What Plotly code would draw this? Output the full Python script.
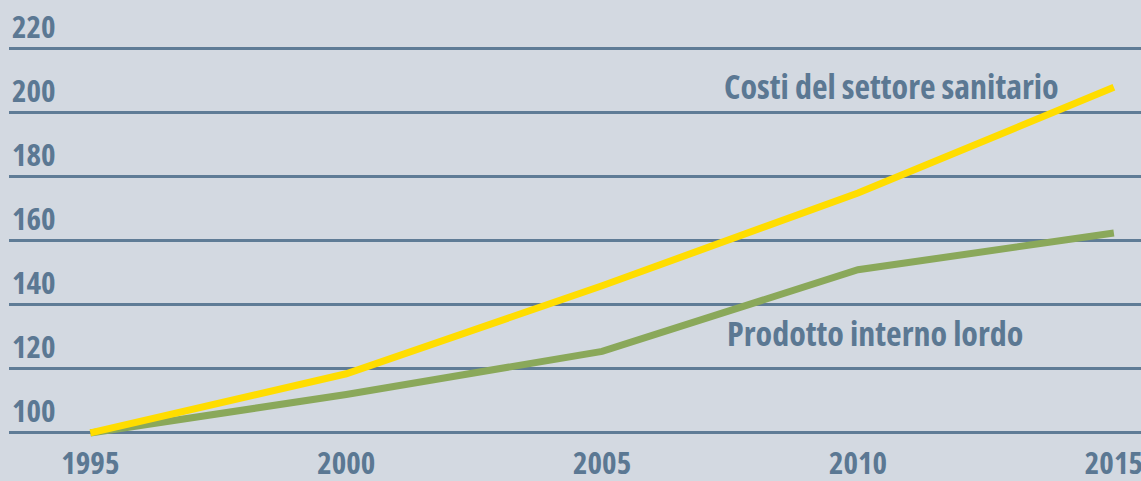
import plotly.graph_objects as go

years = [1995, 2000, 2005, 2010, 2015]
costi_sanitari = [100, 118.5, 146, 175, 208]
pil = [100, 112, 125.5, 151, 162.5]
y_ticks = [100, 120, 140, 160, 180, 200, 220]
x_ticks = [1995, 2000, 2005, 2010, 2015]

FONT = "Open Sans"
TXT = "#5b7893"
GRID = "#5f7c96"
BG = "#d3d9e1"

fig = go.Figure()
fig.add_trace(go.Scatter(x=years, y=pil, mode="lines",
                         line=dict(color="#8aa85a", width=7), hoverinfo="skip"))
fig.add_trace(go.Scatter(x=years, y=costi_sanitari, mode="lines",
                         line=dict(color="#ffdd00", width=7), hoverinfo="skip"))

ann_font = dict(family=FONT, size=34, color=TXT, weight="bold")
fig.add_annotation(x=2010.65, y=208.4, text="Costi del settore sanitario",
                   xanchor="center", yanchor="middle", showarrow=False, font=ann_font)
fig.add_annotation(x=2010.33, y=131.3, text="Prodotto interno lordo",
                   xanchor="center", yanchor="middle", showarrow=False, font=ann_font)

tick_font = dict(family=FONT, size=31, color=TXT, weight="bold")
fig.update_layout(
    width=1141, height=481,
    margin=dict(l=9, r=0, t=0, b=41, pad=0, autoexpand=False),
    paper_bgcolor=BG, plot_bgcolor=BG,
    showlegend=False,
    xaxis=dict(range=[1993.41, 2015.53], tickvals=x_ticks,
               ticktext=[str(v) for v in x_ticks],
               showgrid=False, zeroline=False, showline=False, ticks="",
               ticklabelstandoff=2, ticklabeloverflow="allow", automargin=False,
               tickfont=tick_font, fixedrange=True),
    yaxis=dict(range=[97.8, 235.3], tickvals=y_ticks,
               showgrid=True, gridcolor=GRID, gridwidth=2.5,
               zeroline=False, showline=False, ticks="", automargin=False,
               ticklabelposition="inside top",
               tickfont=tick_font, fixedrange=True),
)

post = """
document.body.style.margin='0';
document.querySelectorAll('text').forEach(function(t){t.style.fontStretch='75%';});
"""
fig.write_html("out.html", post_script=post, config={"displayModeBar": False})
